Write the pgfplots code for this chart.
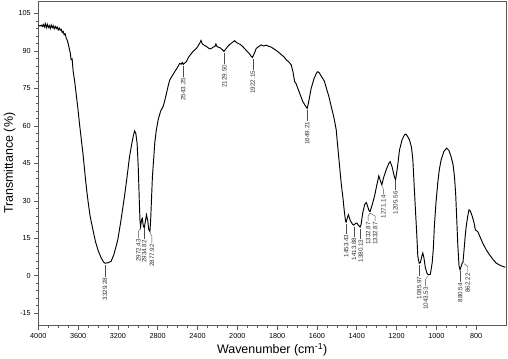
\documentclass[border=0pt]{standalone}
\usepackage{fontspec}
\setmainfont{Liberation Sans}
\usepackage{pgfplots}
\usepackage{pgfplotstable}
\pgfplotsset{compat=1.18}

% high-wavenumber part (plotted at half scale: u = 1000 + w/2)
\pgfplotstableread{
w T
4000 100.3
3985 100.0
3970 100.3
3960 99.8
3950 100.6
3940 99.6
3930 100.9
3920 99.3
3910 100.7
3900 99.4
3890 100.2
3880 99.0
3870 100.4
3860 99.3
3850 100.1
3840 98.9
3830 99.8
3820 99.0
3810 99.6
3800 98.4
3790 99.2
3780 98.3
3770 98.7
3760 97.4
3750 97.8
3740 96.5
3730 96.9
3720 95.2
3710 94.4
3700 93.0
3690 91.2
3680 89.5
3670 86.5
3660 86.8
3650 82.0
3635 78.0
3620 73.0
3602 67.0
3585 60.5
3569 55.0
3550 48.5
3535 42.4
3520 36.5
3502 30.4
3480 24.0
3451 18.4
3425 13.6
3401 10.4
3370 7.3
3345 5.5
3329 5.0
3300 5.2
3268 5.8
3240 8.5
3220 11.5
3201 14.4
3170 22.0
3134 31.7
3110 39.0
3083 47.7
3060 53.0
3045 56.0
3032 58.0
3020 57.0
3007 53.0
2995 43.0
2985 30.0
2978 22.0
2972 19.7
2962 22.5
2955 23.0
2945 20.0
2935 19.2
2925 21.5
2913 24.4
2900 22.0
2890 18.5
2878 17.7
2870 23.0
2860 33.0
2853 39.7
2840 47.0
2830 53.0
2815 58.0
2796 62.4
2770 66.0
2746 67.7
2730 70.0
2712 73.0
2695 76.0
2679 78.4
2655 80.0
2629 81.7
2600 83.5
2580 85.0
2565 84.7
2552 85.4
2543 84.6
2525 85.3
2512 85.7
2490 87.5
2461 89.0
2440 90.0
2411 91.0
2390 92.3
2375 93.3
2365 94.2
2355 93.1
2345 92.6
2328 92.2
2300 91.5
2280 90.8
2261 91.0
2240 91.6
2225 91.8
2215 92.8
2205 91.8
2190 91.5
2170 91.2
2150 90.5
2134 89.8
2120 90.6
2100 91.6
2080 92.5
2050 93.4
2027 94.1
2015 93.6
2000 93.2
}\tablehigh

\pgfplotstableread{
w T
2000 93.2
1985 92.6
1972 91.7
1955 90.2
1940 89.0
1930 87.8
1924 87.4
1912 89.5
1905 91.0
1892 91.8
1880 92.4
1868 92.0
1855 92.3
1840 91.8
1829 91.5
1812 90.6
1796 89.7
1780 88.6
1765 87.6
1754 86.4
1742 85.7
1729 84.4
1720 81.5
1712 77.7
1704 76.8
1696 75.0
1684 72.5
1671 69.7
1660 68.3
1652 67.3
1649 67.0
1643 69.0
1636 72.0
1629 75.0
1615 78.8
1602 81.2
1595 81.7
1588 81.2
1575 79.5
1562 77.8
1550 74.4
1540 71.8
1528 67.7
1515 63.5
1503 58.4
1494 50.5
1486 43.7
1478 37.0
1470 31.7
1462 25.5
1456 21.7
1453 21.5
1448 23.0
1442 24.4
1432 22.0
1420 20.5
1414 20.3
1405 21.0
1400 21.1
1392 20.3
1383 19.5
1378 20.5
1370 25.1
1360 28.5
1352 29.3
1345 27.8
1338 26.0
1333 25.7
1322 28.5
1311 31.7
1300 36.0
1289 40.0
1281 38.0
1274 36.4
1264 39.5
1252 42.4
1240 44.8
1232 45.7
1222 43.5
1212 40.0
1205 38.4
1196 43.0
1185 50.4
1172 54.5
1160 56.4
1152 56.7
1144 55.7
1135 54.4
1125 51.5
1118 46.4
1112 37.0
1105 26.4
1098 16.0
1093 7.7
1086 5.0
1080 5.3
1074 7.5
1068 9.1
1062 7.0
1055 3.1
1046 0.8
1040 0.4
1030 0.6
1021 5.1
1015 11.0
1010 19.7
1002 29.0
993 37.1
985 42.5
976 46.4
962 49.8
948 51.1
937 50.2
926 47.7
916 44.5
909 39.7
903 33.0
898 23.7
892 12.0
886 4.0
881 2.4
875 3.8
870 5.1
866 5.5
860 11.0
855 15.8
850 19.7
842 24.0
836 26.4
830 26.0
824 24.8
817 23.1
810 21.0
804 18.4
798 18.0
792 17.7
780 15.5
767 13.1
750 10.5
733 8.4
716 6.6
700 5.1
680 4.2
665 3.7
653 3.4
}\tablelow

\newcommand{\lbl}[5]{% u, v, dx(bp), leader length(bp), text
  \draw[gray!60!black,line width=0.4pt] (axis cs:#1,#2) ++(0bp,-1.5bp) -- ++(#3bp,-3bp) -- ++(0bp,-#4bp)
    node[anchor=east,rotate=90,inner sep=0.8pt,font=\fontsize{6.3}{7}\selectfont,text=black!80] {#5};}

\begin{document}
\begin{tikzpicture}
\begin{axis}[
  scale only axis,
  width=467.7bp, height=324.7bp,
  xmin=650, xmax=3000, x dir=reverse,
  ymin=-20, ymax=110,
  xtick={800,1000,...,3000},
  xticklabels={800,1000,1200,1400,1600,1800,2000,2400,2800,3200,3600,4000},
  minor x tick num=3,
  ytick={-15,0,...,105},
  minor y tick num=4,
  tick align=outside,
  major tick length=4bp, minor tick length=2.5bp,
  xtick pos=bottom, ytick pos=left,
  axis line style={gray!70!black, line width=0.8pt},
  every tick/.style={gray!70!black, line width=0.5pt},
  tick label style={font=\fontsize{7.3}{8}\selectfont},
  /pgf/number format/assume math mode=true,
  yticklabel style={/pgf/number format/.cd, fixed},
  xlabel={Wavenumber (cm\textsuperscript{-1})},
  ylabel={Transmittance (\%)},
  label style={font=\fontsize{12.5}{14}\selectfont},
  xlabel style={at={(axis description cs:0.5,-0.074)},anchor=center},
  ylabel style={at={(axis description cs:-0.061,0.5)},anchor=center},
  clip=false,
]
\addplot[black, line width=0.95pt, mark=none] table[x expr={1000+\thisrow{w}/2}, y=T] {\tablehigh};
\addplot[black, line width=0.95pt, mark=none] table[x=w, y=T] {\tablelow};

\lbl{2664.64}{5.0}{0}{9}{3329.28}
\lbl{2486.2}{19.7}{-2}{7}{2972.43}
\lbl{2467.4}{19.2}{0}{7}{2934.82}
\lbl{2439.0}{17.7}{2}{7}{2877.92}
\lbl{2271.6}{84.6}{0}{8}{2543.25}
\lbl{2064.75}{89.8}{0}{8}{2129.50}
\lbl{1922.15}{87.4}{0}{8}{1922.15}
\lbl{1649.21}{67.0}{0}{8}{1649.21}
\lbl{1453.43}{21.5}{0}{7}{1453.43}
\lbl{1413.88}{20.3}{0}{7}{1413.88}
\lbl{1380.13}{19.5}{0}{7}{1380.13}
\lbl{1332.87}{25.7}{-2}{5}{1332.87}
\lbl{1332.87}{25.7}{5}{5}{1332.87}
\lbl{1271.14}{36.4}{1}{5}{1271.14}
\lbl{1205.56}{38.4}{0}{6}{1205.56}
\lbl{1085.97}{5.0}{0}{8}{1085.97}
\lbl{1043.53}{0.4}{-2}{7}{1043.53}
\lbl{880.54}{2.4}{0}{8}{880.54}
\lbl{862.22}{5.5}{4}{6}{862.22}
\end{axis}
\pgfresetboundingbox
\path[use as bounding box] ([xshift=-38.3bp,yshift=-33.3bp]current axis.south west) rectangle ([xshift=2bp,yshift=1bp]current axis.north east);
\end{tikzpicture}
\end{document}
